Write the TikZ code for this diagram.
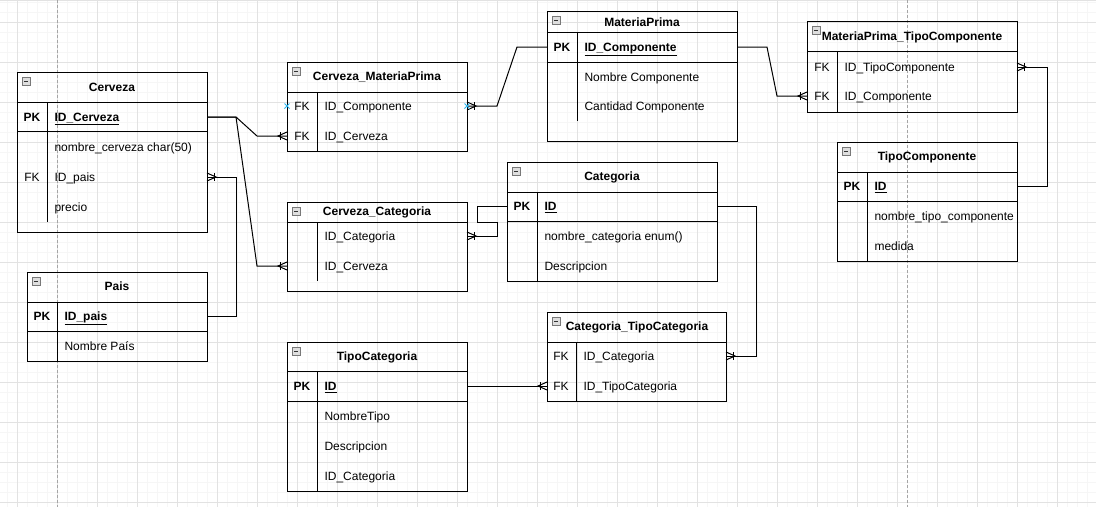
\documentclass[tikz,border=0pt]{standalone}
\usepackage{fontspec}
\setmainfont{Liberation Sans}
\usetikzlibrary{calc,fit}
\definecolor{gridminor}{RGB}{246,246,246}
\definecolor{gridmajor}{RGB}{226,226,226}
\definecolor{pagedash}{RGB}{165,165,165}
\definecolor{hoverblue}{RGB}{41,182,242}
\definecolor{iconfill}{RGB}{222,222,222}
\definecolor{iconline}{RGB}{120,120,120}
% crow's foot (one-to-many) at coordinate #1; box lies to the right
\newcommand\crowR[1]{%
  \draw[rel] ($(#1)+(-7,-4)$) -- ($(#1)+(-7,4)$);
  \draw[rel] ($(#1)+(0,-4)$) -- ($(#1)+(-9,0)$) -- ($(#1)+(0,4)$);}
% crow's foot at coordinate #1; box lies to the left
\newcommand\crowL[1]{%
  \draw[rel] ($(#1)+(7,-4)$) -- ($(#1)+(7,4)$);
  \draw[rel] ($(#1)+(0,-4)$) -- ($(#1)+(9,0)$) -- ($(#1)+(0,4)$);}
\newcommand\minusicon[2]{%
  \draw[draw=iconline,fill=iconfill,line width=0.8pt] (#1,#2) rectangle ++(8,8);
  \draw[line width=1pt,black!80] (#1+2,#2+4) -- (#1+6,#2+4);}
\newcommand\hovermark[1]{%
  \draw[hoverblue,line width=0.9pt] ($(#1)+(-2.5,-2.5)$) -- ($(#1)+(2.5,2.5)$) ($(#1)+(-2.5,2.5)$) -- ($(#1)+(2.5,-2.5)$);}
\begin{document}
\begin{tikzpicture}[x=1pt,y=-1pt,line width=1pt,
  tbl/.style={draw=black,line width=1pt,inner sep=0pt,outer sep=0pt},
  ttl/.style={font=\bfseries\fontsize{12}{14}\selectfont,inner sep=0pt,text height=8.6pt,text depth=0pt},
  fld/.style={font=\fontsize{12}{14}\selectfont,inner sep=0pt,anchor=west,text height=8.6pt,text depth=0pt},
  keyc/.style={font=\fontsize{12}{14}\selectfont,inner sep=0pt,text height=8.6pt,text depth=0pt},
  pkkey/.style={font=\bfseries\fontsize{12}{14}\selectfont,inner sep=0pt,text height=8.6pt,text depth=0pt},
  pkfld/.style={font=\bfseries\fontsize{12}{14}\selectfont,inner sep=0pt,anchor=west,text height=8.6pt,text depth=0pt},
  rel/.style={draw=black,line width=1pt,line join=miter}
]
\useasboundingbox (0,0) rectangle (1096,507);
% ---------- background grid ----------
\fill[white] (0,0) rectangle (1096,507);
\foreach \gx in {7,17,...,1097} \draw[gridminor,line width=0.8pt] (\gx,0) -- (\gx,507);
\foreach \gy in {2,12,...,502} \draw[gridminor,line width=0.8pt] (0,\gy) -- (1096,\gy);
\foreach \gx in {17,57,...,1097} \draw[gridmajor,line width=0.8pt] (\gx,0) -- (\gx,507);
\foreach \gy in {22,62,...,502} \draw[gridmajor,line width=0.8pt] (0,\gy) -- (1096,\gy);
\draw[gridmajor,line width=1.2pt] (0,0.6) -- (1096,0.6);
\draw[pagedash,line width=0.8pt,dash pattern=on 3pt off 2pt] (57,0) -- (57,507);
\draw[pagedash,line width=0.8pt,dash pattern=on 3pt off 2pt] (907,0) -- (907,507);

% ---------- Cerveza ----------
\node[tbl,fit={(17,72) (207,232)}] (cerveza) {};
\draw (17,102) -- (207,102) (17,131) -- (207,131) (47,102) -- (47,222);
\minusicon{22}{77}
\node[ttl] (cerveza-t) at (112,87) {Cerveza};
\node[pkkey] (cerveza-k1) at (32,117) {PK};
\node[pkfld] (cerveza-f1) at (54,117) {\underline{ID\_Cerveza}};
\node[fld] (cerveza-f2) at (54,147) {nombre\_cerveza char(50)};
\node[keyc] (cerveza-k3) at (32,177) {FK};
\node[fld] (cerveza-f3) at (54,177) {ID\_pais};
\node[fld] (cerveza-f4) at (54,207) {precio};

% ---------- Pais ----------
\node[tbl,fit={(27,272) (207,361)}] (pais) {};
\draw (27,302) -- (207,302) (27,331) -- (207,331) (57,302) -- (57,361);
\minusicon{32}{277}
\node[ttl] (pais-t) at (117,286) {Pais};
\node[pkkey] (pais-k1) at (42,316) {PK};
\node[pkfld] (pais-f1) at (64,316) {\underline{ID\_pais}};
\node[fld] (pais-f2) at (64,346) {Nombre País};

% ---------- Cerveza_MateriaPrima ----------
\node[tbl,fit={(287,62) (467,151)}] (cmp) {};
\draw (287,92) -- (467,92) (317,92) -- (317,151);
\minusicon{292}{67}
\node[ttl] (cmp-t) at (377,76) {Cerveza\_MateriaPrima};
\node[keyc] (cmp-k1) at (302,106) {FK};
\node[fld] (cmp-f1) at (324,106) {ID\_Componente};
\node[keyc] (cmp-k2) at (302,136) {FK};
\node[fld] (cmp-f2) at (324,136) {ID\_Cerveza};

% ---------- Cerveza_Categoria ----------
\node[tbl,fit={(287,202) (467,291)}] (ccat) {};
\draw (287,222) -- (467,222) (317,222) -- (317,281);
\minusicon{292}{207}
\node[ttl] (ccat-t) at (377,211) {Cerveza\_Categoria};
\node[fld] (ccat-f1) at (324,236) {ID\_Categoria};
\node[fld] (ccat-f2) at (324,266) {ID\_Cerveza};

% ---------- MateriaPrima ----------
\node[tbl,fit={(547,11) (737,141)}] (mp) {};
\draw (547,32) -- (737,32) (547,62) -- (737,62) (577,32) -- (577,121);
\minusicon{552}{16}
\node[ttl] (mp-t) at (642,22) {MateriaPrima};
\node[pkkey] (mp-k1) at (562,47) {PK};
\node[pkfld] (mp-f1) at (584,47) {\underline{ID\_Componente}};
\node[fld] (mp-f2) at (584,77) {Nombre Componente};
\node[fld] (mp-f3) at (584,106) {Cantidad Componente};

% ---------- MateriaPrima_TipoComponente ----------
\node[tbl,fit={(807,21) (1017,112)}] (mptc) {};
\draw (807,51) -- (1017,51) (837,51) -- (837,112);
\minusicon{812}{26}
\node[ttl] (mptc-t) at (912,36) {MateriaPrima\_TipoComponente};
\node[keyc] (mptc-k1) at (822,67) {FK};
\node[fld] (mptc-f1) at (844,67) {ID\_TipoComponente};
\node[keyc] (mptc-k2) at (822,96) {FK};
\node[fld] (mptc-f2) at (844,96) {ID\_Componente};

% ---------- TipoComponente ----------
\node[tbl,fit={(837,142) (1017,261)}] (tc) {};
\draw (837,172) -- (1017,172) (837,201) -- (1017,201) (867,172) -- (867,261);
\minusicon{842}{147}
\node[ttl] (tc-t) at (927,156) {TipoComponente};
\node[pkkey] (tc-k1) at (852,186) {PK};
\node[pkfld] (tc-f1) at (874,186) {\underline{ID}};
\node[fld] (tc-f2) at (874,216) {nombre\_tipo\_componente};
\node[fld] (tc-f3) at (874,246) {medida};

% ---------- Categoria ----------
\node[tbl,fit={(507,162) (717,281)}] (cat) {};
\draw (507,192) -- (717,192) (507,221) -- (717,221) (537,192) -- (537,281);
\minusicon{512}{167}
\node[ttl] (cat-t) at (612,176) {Categoria};
\node[pkkey] (cat-k1) at (522,206) {PK};
\node[pkfld] (cat-f1) at (544,206) {\underline{ID}};
\node[fld] (cat-f2) at (544,236) {nombre\_categoria enum()};
\node[fld] (cat-f3) at (544,266) {Descripcion};

% ---------- TipoCategoria ----------
\node[tbl,fit={(287,342) (467,491)}] (tcat) {};
\draw (287,371) -- (467,371) (287,401) -- (467,401) (317,371) -- (317,491);
\minusicon{292}{347}
\node[ttl] (tcat-t) at (377,356) {TipoCategoria};
\node[pkkey] (tcat-k1) at (302,386) {PK};
\node[pkfld] (tcat-f1) at (324,386) {\underline{ID}};
\node[fld] (tcat-f2) at (324,416) {NombreTipo};
\node[fld] (tcat-f3) at (324,446) {Descripcion};
\node[fld] (tcat-f4) at (324,476) {ID\_Categoria};

% ---------- Categoria_TipoCategoria ----------
\node[tbl,fit={(547,312) (726,401)}] (ctc) {};
\draw (547,342) -- (726,342) (576,342) -- (576,401);
\minusicon{552}{317}
\node[ttl] (ctc-t) at (637,326) {Categoria\_TipoCategoria};
\node[keyc] (ctc-k1) at (561,356) {FK};
\node[fld] (ctc-f1) at (583,356) {ID\_Categoria};
\node[keyc] (ctc-k2) at (561,386) {FK};
\node[fld] (ctc-f2) at (583,386) {ID\_TipoCategoria};

% ---------- connection points ----------
\coordinate (p-cerveza-pk) at (cerveza.east |- cerveza-f1);
\coordinate (p-cerveza-fk) at (cerveza.east |- cerveza-f3);
\coordinate (p-pais-pk) at (pais.east |- pais-f1);
\coordinate (p-cmp-c) at (cmp.east |- cmp-f1);
\coordinate (p-cmp-l) at (cmp.west |- cmp-f1);
\coordinate (p-cmp-b) at (cmp.west |- cmp-f2);
\coordinate (p-ccat-a) at (ccat.east |- ccat-f1);
\coordinate (p-ccat-b) at (ccat.west |- ccat-f2);
\coordinate (p-mp-l) at (mp.west |- mp-f1);
\coordinate (p-mp-r) at (mp.east |- mp-f1);
\coordinate (p-mptc-a) at (mptc.east |- mptc-f1);
\coordinate (p-mptc-b) at (mptc.west |- mptc-f2);
\coordinate (p-tc-pk) at (tc.east |- tc-f1);
\coordinate (p-cat-l) at (cat.west |- cat-f1);
\coordinate (p-cat-r) at (cat.east |- cat-f1);
\coordinate (p-tcat-pk) at (tcat.east |- tcat-f1);
\coordinate (p-ctc-a) at (ctc.east |- ctc-f1);
\coordinate (p-ctc-b) at (ctc.west |- ctc-f2);

% ---------- relationships ----------
\draw[rel] (p-cerveza-pk) -- (236,117) -- (257,136) -- (p-cmp-b);
\crowR{p-cmp-b}
\draw[rel] (p-cerveza-pk) -- (236,117) -- (257,266) -- (p-ccat-b);
\crowR{p-ccat-b}
\draw[rel] (p-pais-pk) -- (236,316) -- (236,177) -- (p-cerveza-fk);
\crowL{p-cerveza-fk}
\draw[rel] (p-cmp-c) -- (497,106) -- (517,47) -- (p-mp-l);
\crowL{p-cmp-c}
\draw[rel] (p-mp-r) -- (767,47) -- (777,96) -- (p-mptc-b);
\crowR{p-mptc-b}
\draw[rel] (p-tc-pk) -- (1047,186) -- (1047,67) -- (p-mptc-a);
\crowL{p-mptc-a}
\draw[rel] (p-cat-l) -- (477,206) -- (477,222) -- (497,222) -- (497,236) -- (p-ccat-a);
\crowL{p-ccat-a}
\draw[rel] (p-cat-r) -- (756,206) -- (756,356) -- (p-ctc-a);
\crowL{p-ctc-a}
\draw[rel] (p-tcat-pk) -- (p-ctc-b);
\crowR{p-ctc-b}

% hover markers
\hovermark{p-cmp-l}
\hovermark{p-cmp-c}
\end{tikzpicture}
\end{document}
